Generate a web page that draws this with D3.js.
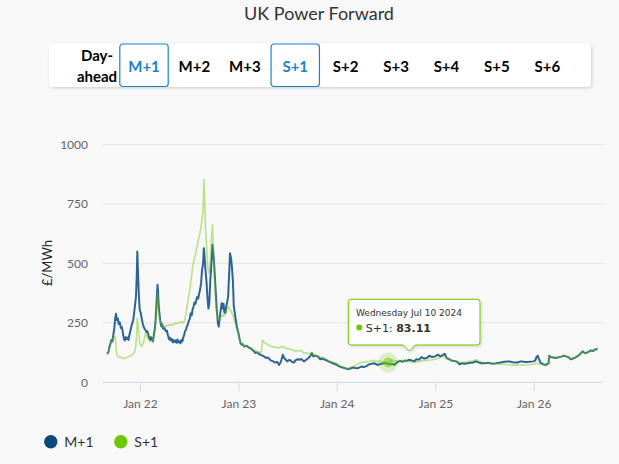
<!DOCTYPE html>
<html>
<head>
<meta charset="utf-8">
<script src="https://cdn.jsdelivr.net/npm/d3@7"></script>
<style>
  body { margin: 0; background: #f8f8f8; }
  svg { display: block; font-family: Lato, "Open Sans", sans-serif; }
</style>
</head>
<body>
<div id="chart"></div>
<script>
// trading dates shared by both series
var dates = [
  "2021-09-01","2021-09-06","2021-09-10","2021-09-14","2021-09-17","2021-09-21","2021-09-24","2021-09-28","2021-10-01","2021-10-04",
  "2021-10-07","2021-10-11","2021-10-14","2021-10-18","2021-10-22","2021-10-26","2021-10-29","2021-11-02","2021-11-05","2021-11-09",
  "2021-11-12","2021-11-16","2021-11-19","2021-11-23","2021-11-26","2021-11-30","2021-12-03","2021-12-07","2021-12-10","2021-12-14",
  "2021-12-17","2021-12-20","2021-12-22","2021-12-24","2021-12-28","2021-12-31","2022-01-04","2022-01-07","2022-01-11","2022-01-14",
  "2022-01-18","2022-01-21","2022-01-25","2022-01-28","2022-02-01","2022-02-04","2022-02-08","2022-02-11","2022-02-15","2022-02-18",
  "2022-02-22","2022-02-25","2022-02-28","2022-03-03","2022-03-07","2022-03-09","2022-03-11","2022-03-14","2022-03-17","2022-03-21",
  "2022-03-24","2022-03-28","2022-03-31","2022-04-04","2022-04-07","2022-04-11","2022-04-14","2022-04-19","2022-04-22","2022-04-26",
  "2022-04-29","2022-05-03","2022-05-06","2022-05-10","2022-05-13","2022-05-17","2022-05-20","2022-05-24","2022-05-27","2022-05-31",
  "2022-06-03","2022-06-07","2022-06-10","2022-06-14","2022-06-17","2022-06-21","2022-06-24","2022-06-28","2022-07-01","2022-07-05",
  "2022-07-08","2022-07-12","2022-07-15","2022-07-19","2022-07-22","2022-07-26","2022-07-29","2022-08-02","2022-08-05","2022-08-09",
  "2022-08-12","2022-08-16","2022-08-19","2022-08-23","2022-08-26","2022-08-29","2022-09-01","2022-09-05","2022-09-08","2022-09-12",
  "2022-09-15","2022-09-19","2022-09-23","2022-09-27","2022-09-29","2022-10-03","2022-10-06","2022-10-10","2022-10-13","2022-10-17",
  "2022-10-20","2022-10-24","2022-10-27","2022-10-31","2022-11-03","2022-11-07","2022-11-10","2022-11-14","2022-11-17","2022-11-21",
  "2022-11-24","2022-11-28","2022-12-01","2022-12-05","2022-12-08","2022-12-12","2022-12-15","2022-12-19","2022-12-22","2022-12-27",
  "2023-01-01","2023-01-05","2023-01-09","2023-01-13","2023-01-18","2023-01-23","2023-02-01","2023-02-08","2023-02-14","2023-02-21",
  "2023-03-01","2023-03-05","2023-03-12","2023-03-20","2023-03-27","2023-04-01","2023-04-07","2023-04-14","2023-04-21","2023-05-01",
  "2023-05-10","2023-05-18","2023-05-25","2023-06-01","2023-06-07","2023-06-10","2023-06-15","2023-06-20","2023-06-25","2023-07-01",
  "2023-07-08","2023-07-14","2023-07-20","2023-07-26","2023-08-01","2023-08-08","2023-08-15","2023-08-22","2023-09-01","2023-09-10",
  "2023-09-18","2023-09-25","2023-10-01","2023-10-06","2023-10-14","2023-10-22","2023-11-01","2023-11-10","2023-11-18","2023-11-25",
  "2023-12-01","2023-12-10","2023-12-18","2024-01-01","2024-01-09","2024-01-16","2024-01-24","2024-02-01","2024-02-10","2024-02-18",
  "2024-03-01","2024-03-10","2024-03-18","2024-03-26","2024-04-01","2024-04-10","2024-04-20","2024-05-01","2024-05-10","2024-05-18",
  "2024-05-25","2024-06-01","2024-06-08","2024-06-16","2024-06-24","2024-07-01","2024-07-10","2024-07-18","2024-07-25","2024-08-01",
  "2024-08-10","2024-08-18","2024-08-25","2024-09-01","2024-09-10","2024-09-18","2024-09-26","2024-10-05","2024-10-15","2024-10-22",
  "2024-11-01","2024-11-10","2024-11-20","2024-12-01","2024-12-10","2024-12-20","2025-01-01","2025-01-10","2025-01-20","2025-01-28",
  "2025-02-05","2025-02-12","2025-02-20","2025-03-01","2025-03-10","2025-03-20","2025-04-01","2025-04-10","2025-04-20","2025-05-01",
  "2025-05-10","2025-05-20","2025-06-01","2025-06-10","2025-06-20","2025-07-01","2025-07-15","2025-08-01","2025-08-15","2025-09-01",
  "2025-09-15","2025-10-01","2025-10-15","2025-11-01","2025-11-15","2025-12-01","2025-12-15","2026-01-01","2026-01-07","2026-01-11",
  "2026-01-16","2026-01-21","2026-01-26","2026-02-05","2026-02-15","2026-02-25","2026-02-28","2026-03-05","2026-03-15","2026-03-25",
  "2026-04-05","2026-04-15","2026-04-22","2026-05-01","2026-05-10","2026-05-18","2026-06-01","2026-06-10","2026-06-20","2026-07-01",
  "2026-07-10","2026-07-20","2026-08-01","2026-08-10","2026-08-20","2026-08-26"
];

// M+1 (£/MWh)
var m1Values = [
  119,128,150,165,178,172,200,230,270,288,
  262,268,245,252,228,232,210,185,176,190,
  182,188,178,200,215,235,248,262,290,330,
  360,450,550,480,360,305,290,270,248,235,
  225,220,212,215,200,186,178,190,180,172,
  205,225,262,330,410,380,330,290,260,235,
  245,225,230,222,215,218,200,180,188,176,
  182,168,178,170,176,166,180,168,172,164,
  178,172,185,200,215,222,235,245,258,268,
  290,282,305,320,335,330,347,360,352,375,
  390,420,470,500,564,520,470,420,360,310,
  330,431,500,578,560,500,440,360,305,250,
  234,270,300,333,310,330,295,291,320,340,
  361,460,543,520,487,420,319,290,264,230,
  208,185,165,158,160,150,154,146,144,137,
  130,123,126,118,114,112,108,102,104,92,
  88,83,86,73,84,95,116,102,96,88,
  94,92,85,83,92,97,95,98,88,95,
  102,110,123,109,112,109,97,100,95,92,
  88,84,80,73,68,64,62,59,56,57,
  62,60,59,63,66,64,68,76,78,80,
  77,73,76,78,80,80,78,76,78,73,
  82,88,90,86,92,90,95,92,88,97,
  95,106,100,102,112,106,109,116,109,114,
  120,102,98,92,90,88,76,80,78,80,
  82,83,88,84,80,80,82,78,80,83,
  86,88,84,83,88,85,86,88,92,106,
  112,96,83,76,73,80,112,106,104,102,
  106,108,112,109,106,97,102,108,116,130,
  122,126,134,132,140,138
];

// S+1 (£/MWh)
var s1Values = [
  119,126,150,160,171,176,185,190,192,150,
  118,108,106,104,106,102,100,100,101,103,
  104,106,108,110,112,114,116,120,125,135,
  160,210,270,250,200,164,158,150,160,165,
  190,206,200,190,182,175,172,176,171,178,
  195,210,248,300,375,340,300,270,255,248,
  240,232,235,234,238,236,241,238,244,240,
  243,241,246,244,250,246,248,252,250,254,
  255,250,252,255,270,291,315,340,365,389,
  420,450,487,505,520,540,557,575,595,614,
  630,655,690,720,852,760,650,571,500,459,
  470,515,600,663,600,480,389,320,290,270,
  262,268,275,280,275,285,280,291,300,310,
  319,310,305,300,290,280,270,255,240,220,
  208,185,168,162,160,152,154,148,145,140,
  134,130,128,126,126,177,168,162,158,151,
  149,146,148,144,146,150,151,146,144,140,
  142,137,138,134,130,134,132,134,123,124,
  120,122,126,118,114,112,106,104,100,97,
  92,88,84,80,72,66,64,59,58,61,
  66,70,75,80,83,84,86,88,90,92,
  89,88,89,87,86,85,83.11,88,95,88,
  90,92,92,90,90,88,87,85,83,86,
  88,90,91,92,94,95,97,100,104,106,
  109,100,95,92,89,88,84,83,85,86,
  88,90,95,90,86,83,81,79,78,76,
  75,74,73,74,73,73,74,76,78,80,
  78,76,75,74,73,78,109,106,104,102,
  106,108,112,109,106,97,102,108,116,130,
  122,126,134,132,140,138
];

var seriesNames = ["M+1", "S+1"];
var legendColors = ["#0b4a78", "#6cc800"];
var yTicks = [0, 250, 500, 750, 1000];
var xTickDates = ["2022-01-01", "2023-01-01", "2024-01-01", "2025-01-01", "2026-01-01"];
var xTickLabels = ["Jan 22", "Jan 23", "Jan 24", "Jan 25", "Jan 26"];
var buttons = ["M+1", "M+2", "M+3", "S+1", "S+2", "S+3", "S+4", "S+5", "S+6"];
var activeButtons = ["M+1", "S+1"];
var hoverDate = "2024-07-10";

var W = 619, H = 464;
var parse = d3.timeParse("%Y-%m-%d");
var fmtTip = d3.timeFormat("%A %b %-d %Y");

var m1Data = dates.map(function(d, i) { return {date: parse(d), value: m1Values[i]}; });
var s1Data = dates.map(function(d, i) { return {date: parse(d), value: s1Values[i]}; });

var svg = d3.select("#chart").append("svg")
    .attr("width", W).attr("height", H);

var defs = svg.append("defs");
var sh = defs.append("filter").attr("id", "shadow")
    .attr("x", "-10%").attr("y", "-20%").attr("width", "120%").attr("height", "150%");
sh.append("feDropShadow").attr("dx", 1).attr("dy", 1).attr("stdDeviation", 1.5)
    .attr("flood-color", "#000").attr("flood-opacity", 0.18);

// title
svg.append("text")
    .attr("x", 319).attr("y", 20)
    .attr("text-anchor", "middle")
    .style("font-size", "18px")
    .style("fill", "#333")
    .text("UK Power Forward");

// button bar
svg.append("rect")
    .attr("x", 49).attr("y", 43.5).attr("width", 542).attr("height", 43.5)
    .attr("rx", 4).attr("fill", "#fff").attr("filter", "url(#shadow)");

var dayAhead = svg.append("text")
    .attr("text-anchor", "middle")
    .style("font-size", "15px").style("font-weight", "bold").style("fill", "#000");
dayAhead.append("tspan").attr("x", 97).attr("y", 61).text("Day-");
dayAhead.append("tspan").attr("x", 97).attr("y", 82).text("ahead");

var bx = d3.scaleBand().domain(buttons).range([119.3, 119.3 + 50.3 * buttons.length]).paddingInner(0.02);

var btn = svg.selectAll(".btn").data(buttons).enter().append("g")
    .attr("transform", function(d) { return "translate(" + bx(d) + ",43.5)"; });

btn.filter(function(d) { return activeButtons.indexOf(d) >= 0; })
  .append("rect")
    .attr("x", 0.5).attr("y", 0.5)
    .attr("width", bx.bandwidth() - 1).attr("height", 42.5)
    .attr("rx", 3)
    .attr("fill", "#fff").attr("stroke", "#1a82c8").attr("stroke-width", 1.2);

btn.append("text")
    .attr("x", bx.bandwidth() / 2).attr("y", 28.5)
    .attr("text-anchor", "middle")
    .style("font-size", "15px").style("font-weight", "bold")
    .style("fill", function(d) { return activeButtons.indexOf(d) >= 0 ? "#1a82c8" : "#000"; })
    .text(function(d) { return d; });

// scales
var plotLeft = 103, plotRight = 603;
var x = d3.scaleTime()
    .domain([parse(xTickDates[0]), parse(xTickDates[4])])
    .range([140, 533.7]);
var y = d3.scaleLinear().domain([0, 1000]).range([382.3, 144.5]);

// grid
svg.append("g").selectAll("line").data(yTicks.slice(1)).enter().append("line")
    .attr("x1", plotLeft).attr("x2", plotRight)
    .attr("y1", function(d) { return y(d); }).attr("y2", function(d) { return y(d); })
    .attr("stroke", "#e6e6e6").attr("stroke-width", 1);

// y axis labels
var yAxis = d3.axisLeft(y).tickValues(yTicks).tickFormat(d3.format("d")).tickSize(0).tickPadding(0);
var yg = svg.append("g").attr("transform", "translate(88,0)").call(yAxis);
yg.select(".domain").remove();
yg.selectAll("text").style("font-size", "12px").style("fill", "#666")
    .style("font-family", "Lato, sans-serif");

svg.append("text")
    .attr("transform", "translate(51.5,263) rotate(-90)")
    .attr("text-anchor", "middle")
    .style("font-size", "13px").style("fill", "#222")
    .text("£/MWh");

// x axis
var xAxis = d3.axisBottom(x)
    .tickValues(xTickDates.map(parse))
    .tickFormat(function(d, i) { return xTickLabels[i]; })
    .tickSize(9).tickPadding(8);
var xg = svg.append("g").attr("transform", "translate(0," + y(0) + ")").call(xAxis);
xg.select(".domain").remove();
xg.append("line").attr("x1", plotLeft).attr("x2", plotRight)
    .attr("stroke", "#ccd6eb").attr("stroke-width", 1);
xg.selectAll(".tick line").attr("stroke", "#ccd6eb");
xg.selectAll("text").style("font-size", "12px").style("fill", "#666")
    .style("font-family", "Lato, sans-serif");

// lines
var line = d3.line()
    .x(function(d) { return x(d.date); })
    .y(function(d) { return y(d.value); });

svg.append("path").datum(m1Data)
    .attr("d", line)
    .attr("fill", "none").attr("stroke", "#2e6491").attr("stroke-width", 2)
    .attr("stroke-linejoin", "round");

svg.append("path").datum(s1Data)
    .attr("d", line)
    .attr("fill", "none").attr("stroke", "#6cc800").attr("stroke-opacity", 0.45)
    .attr("stroke-width", 1.6).attr("stroke-linejoin", "round");

// hovered point
var hp = s1Data.filter(function(d) { return +d.date === +parse(hoverDate); })[0];
var hx = x(hp.date), hy = y(hp.value);
svg.append("circle").attr("cx", hx).attr("cy", hy).attr("r", 10)
    .attr("fill", "#6cc800").attr("fill-opacity", 0.2);
svg.append("circle").attr("cx", hx).attr("cy", hy).attr("r", 5)
    .attr("fill", "#6cc800").attr("fill-opacity", 0.5);

// tooltip
var tipW = 131.7, tipH = 45.7, tipX = 348.3, tipY = 299.3, tipArrow = 409.3;
var tip = svg.append("g").attr("filter", "url(#shadow)");
tip.append("path")
    .attr("d", "M" + (tipX + 3) + "," + tipY +
      " H" + (tipX + tipW - 3) + " Q" + (tipX + tipW) + "," + tipY + " " + (tipX + tipW) + "," + (tipY + 3) +
      " V" + (tipY + tipH - 3) + " Q" + (tipX + tipW) + "," + (tipY + tipH) + " " + (tipX + tipW - 3) + "," + (tipY + tipH) +
      " H" + (tipArrow + 6) + " L" + tipArrow + "," + (tipY + tipH + 6) + " L" + (tipArrow - 6) + "," + (tipY + tipH) +
      " H" + (tipX + 3) + " Q" + tipX + "," + (tipY + tipH) + " " + tipX + "," + (tipY + tipH - 3) +
      " V" + (tipY + 3) + " Q" + tipX + "," + tipY + " " + (tipX + 3) + "," + tipY + " Z")
    .attr("fill", "#fff").attr("fill-opacity", 0.92)
    .attr("stroke", "#6cc800").attr("stroke-width", 1);

svg.append("text")
    .attr("x", tipX + 7.7).attr("y", tipY + 17)
    .style("font-family", "'DejaVu Sans', sans-serif")
    .style("font-size", "9px").style("fill", "#333")
    .text(fmtTip(hp.date));
svg.append("circle").attr("cx", tipX + 11).attr("cy", tipY + 28.3).attr("r", 3)
    .attr("fill", "#6cc800");
var tv = svg.append("text")
    .attr("x", tipX + 17.5).attr("y", tipY + 32.3)
    .style("font-family", "'DejaVu Sans', sans-serif")
    .style("font-size", "11px").style("fill", "#333");
tv.append("tspan").text(seriesNames[1] + ": ");
tv.append("tspan").style("font-weight", "bold").text(d3.format(".2f")(hp.value));

// legend
var lg = svg.selectAll(".lg").data(seriesNames).enter().append("g")
    .attr("transform", function(d, i) { return "translate(" + (i === 0 ? 50.8 : 120.8) + ",441.7)"; });
lg.append("circle").attr("r", 6.7).attr("fill", function(d, i) { return legendColors[i]; });
lg.append("text").attr("x", 13.5).attr("y", 5)
    .style("font-size", "14px").style("fill", "#333")
    .text(function(d) { return d; });
</script>
</body>
</html>
